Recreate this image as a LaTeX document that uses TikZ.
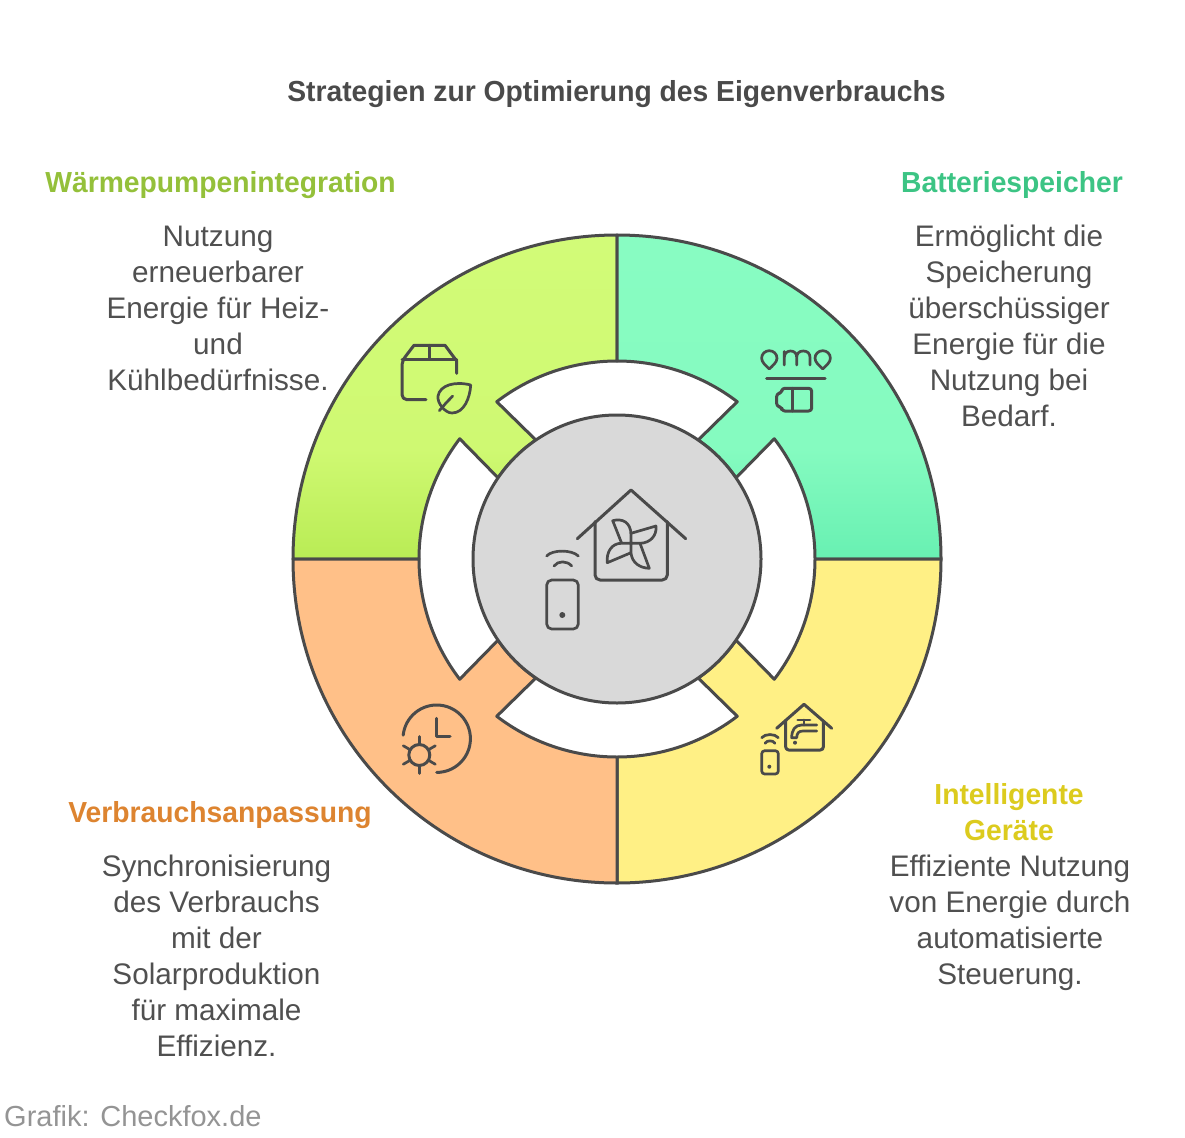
\documentclass[tikz,border=0pt]{standalone}
\usepackage{fontspec}
\setmainfont{Liberation Sans}[BoldFeatures={FakeStretch=0.975}]
\usetikzlibrary{calc}
\definecolor{ink}{HTML}{4A4A4A}
\definecolor{txt}{HTML}{505050}
\definecolor{grnT}{HTML}{D2FB78}
\definecolor{grnM}{HTML}{CFF972}
\definecolor{grnB}{HTML}{B9EC55}
\definecolor{tealT}{HTML}{88FCC2}
\definecolor{tealM}{HTML}{85FBC0}
\definecolor{tealB}{HTML}{68F0B2}
\definecolor{yel}{HTML}{FFF085}
\definecolor{ora}{HTML}{FFC088}
\definecolor{hubc}{HTML}{D9D9D9}
\definecolor{hgrn}{HTML}{94C03A}
\definecolor{hteal}{HTML}{3CC484}
\definecolor{hyel}{HTML}{DCCB1E}
\definecolor{hora}{HTML}{DD8430}
\pgfdeclareverticalshading{grnshade}{100bp}{color(0bp)=(grnB); color(25bp)=(grnB); color(42bp)=(grnM); color(75bp)=(grnT); color(100bp)=(grnT)}
\pgfdeclareverticalshading{tealshade}{100bp}{color(0bp)=(tealB); color(25bp)=(tealB); color(42bp)=(tealM); color(75bp)=(tealT); color(100bp)=(tealT)}
\newcommand\sectorpath[1]{
  ([shift={(617,559)}]{#1+180}:324) arc[start angle={#1+180},end angle={#1+270},radius=324]
  -- ([shift={(617,559)}]{#1+270}:198) arc[start angle={#1+270},end angle={#1+232.6},radius=198]
  -- ([shift={(617,559)}]{#1+235.7}:144) arc[start angle={#1+235.7},end angle={#1+214.3},radius=144]
  -- ([shift={(617,559)}]{#1+217.4}:198) arc[start angle={#1+217.4},end angle={#1+180},radius=198] -- cycle}
\tikzset{
  edge/.style={draw=ink,line width=3pt,line join=round},
  icon/.style={draw=ink,line width=3pt,line cap=round,line join=round},
  thin icon/.style={draw=ink,line width=2.7pt,line cap=round,line join=round},
  body/.style={text=txt,align=center,inner sep=0pt,anchor=north,font=\fontsize{29.7}{36}\selectfont},
  head/.style={inner sep=0pt,align=center,anchor=north,font=\fontsize{29}{36}\selectfont\bfseries},
}
\begin{document}
\begin{tikzpicture}[x=1pt,y=1pt,yscale=-1]
\useasboundingbox (0,0) rectangle (1185,1137);
\shade[edge,shading=grnshade] \sectorpath{0};
\shade[edge,shading=tealshade] \sectorpath{90};
\path[edge,fill=yel] \sectorpath{180};
\path[edge,fill=ora] \sectorpath{270};
\node[circle,minimum size=288pt,inner sep=0pt,fill=hubc,draw=ink,line width=3pt] (hub) at (617,559) {};
% hub icon
\path[icon] (577.3,538.7) -- (631,490) -- (685.7,538.7);
\path[icon,rounded corners=5pt] (595,521.7) -- (595,580) -- (667.3,580) -- (667.3,521.7);
\path[thin icon] (621.7,543.3) -- (612.7,520.7) .. controls (622,518) and (631,522) .. (631,535) -- (631,553) .. controls (632,563) and (640,568) .. (649.3,568.3) -- (640,543.3) -- (621.7,543.3) .. controls (612,543) and (606,552) .. (607.3,562.7) -- (631,552.7);
\path[thin icon] (631,533.3) -- (656,526) .. controls (657,536) and (650,543) .. (640,543.3);
\path[thin icon,rounded corners=5pt] (546.7,580) rectangle (578.3,629);
\fill[ink] (562.3,615) circle (3);
\path[thin icon] (546.7,556) .. controls (552,549.5) and (572,549.5) .. (578.3,556);
\path[thin icon] (554,566) .. controls (558,560.5) and (567,560.5) .. (571.7,566);
% green icon
\path[icon,rounded corners=5pt] (426,399.7) -- (402,399.7) -- (402,361) [sharp corners] -- (414,345.3) -- (445,345.3) -- (456.7,361) -- (456.7,373.3);
\path[icon] (402,359) -- (456.7,359) (429.3,345.3) -- (429.3,359);
\path[thin icon] (470.7,385) .. controls (455,381) and (440,385) .. (438,396) .. controls (437,403) and (445,413) .. (452,413) .. controls (464,413) and (470,398) .. (470.7,385) -- cycle;
\path[thin icon] (439.3,410.7) -- (446,403) -- (452.7,396);
% teal icon
\path[thin icon] (769.3,369) .. controls (766,365.5) and (761.6,362.5) .. (761.6,358.2) .. controls (761.6,354) and (765,350.7) .. (769.3,350.7) .. controls (773.6,350.7) and (777,354) .. (777,358.2) .. controls (777,362.5) and (772.6,365.5) .. (769.3,369) -- cycle;
\path[thin icon] (822.7,369) .. controls (819.4,365.5) and (815,362.5) .. (815,358.2) .. controls (815,354) and (818.4,350.7) .. (822.7,350.7) .. controls (827,350.7) and (830.4,354) .. (830.4,358.2) .. controls (830.4,362.5) and (826,365.5) .. (822.7,369) -- cycle;
\path[thin icon] (784.3,365) -- (784.3,351.5) (784.3,357.5) .. controls (784.3,353.5) and (787,351) .. (790.5,351) .. controls (794.5,351) and (796.7,353.5) .. (796.7,357.5) -- (796.7,365) (796.7,357.5) .. controls (796.7,353.5) and (799,351) .. (803.3,351) .. controls (807.5,351) and (810,353.5) .. (810,357.5) -- (810,365);
\path[icon] (766.7,378.3) -- (825,378.3);
\path[icon,rounded corners=3pt] (781.7,388.3) -- (811.7,388.3) -- (811.7,411) -- (781.7,411) -- (781.7,406.7) -- (776.7,406.7) -- (776.7,393.3) -- (781.7,393.3) -- cycle;
\path[icon] (792.7,388.3) -- (792.7,411);
% yellow icon
\path[icon] (776.7,728.3) -- (804,704.3) -- (831.7,728.3);
\path[icon,rounded corners=3pt] (785.7,721) -- (785.7,750) -- (823.3,750) -- (823.3,721);
\path[thin icon] (797.7,720) -- (810,720) (804,720) -- (804,725);
\path[thin icon] (816.7,725) -- (801.7,725) .. controls (795,725) and (791.7,730) .. (791.7,737.7) -- (796.7,737.7) .. controls (796.7,733) and (799,731) .. (803,731) -- (816.7,731);
\fill[ink] (795,742.7) circle (2);
\path[thin icon,rounded corners=3pt] (761.7,750.7) rectangle (778.3,774);
\fill[ink] (769.3,766.7) circle (2);
\path[thin icon] (761.7,737.7) .. controls (765,733.5) and (775,733.5) .. (778.3,737.7);
\path[thin icon] (765,743.3) .. controls (767,740) and (773,740) .. (775,743.3);
% orange icon
\path[icon] ([shift={(436.7,738.7)}]186:33.7) arc[start angle=186,end angle=450,radius=33.7];
\path[icon] (436.7,718.3) -- (436.7,736.7) -- (450,736.7);
\path[icon] (419.3,755) circle (10.5);
\foreach \a in {30,90,150,210,270,330}{
  \path[thin icon] ([shift={(419.3,755)}]\a:11) -- ([shift={(419.3,755)}]\a:18.5);
}
% texts
\node[font=\fontsize{29}{36}\selectfont\bfseries,text=ink,inner sep=0pt] (title) at (616.5,94.5) {Strategien zur Optimierung des Eigenverbrauchs};
\node[head,text=hgrn] (h1) at (220.5,167) {\strut Wärmepumpenintegration};
\node[body] (b1) at (218,221) {\strut Nutzung\\erneuerbarer\\Energie für Heiz-\\und\\Kühlbedürfnisse.};
\node[head,text=hteal] (h2) at (1012,167) {\strut Batteriespeicher};
\node[body] (b2) at (1009,221) {\strut Ermöglicht die\\Speicherung\\überschüssiger\\Energie für die\\Nutzung bei\\Bedarf.};
\node[head,text=hyel] (h3) at (1009,779) {\strut Intelligente\\Geräte};
\node[body] (b3) at (1010,851) {\strut Effiziente Nutzung\\von Energie durch\\automatisierte\\Steuerung.};
\node[head,text=hora] (h4) at (220,797) {\strut Verbrauchsanpassung};
\node[body] (b4) at (216.5,851) {\strut Synchronisierung\\des Verbrauchs\\mit der\\Solarproduktion\\für maximale\\Effizienz.};
\node[anchor=west,inner sep=0pt,text=black!42,font=\fontsize{29}{36}\selectfont] (foot) at (4,1116) {Grafik: Checkfox.de};
\end{tikzpicture}
\end{document}
